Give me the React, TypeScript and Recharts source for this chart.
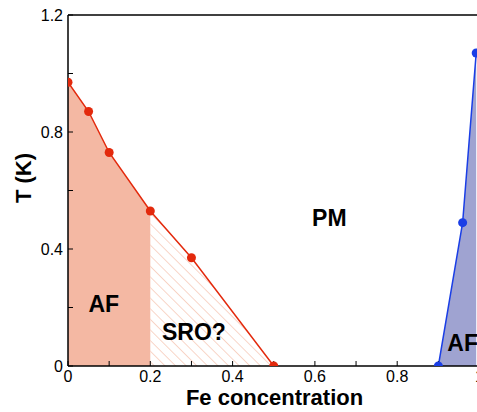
import {
  ComposedChart,
  Area,
  Line,
  XAxis,
  YAxis,
  ReferenceDot,
} from 'recharts'

// Cr-rich side: antiferromagnet (solid fill) then short range order (hatched)
const afConc = [0, 0.05, 0.1, 0.2]
const afTemp = [0.97, 0.87, 0.73, 0.53]
const sroConc = [0.2, 0.3, 0.5]
const sroTemp = [0.53, 0.37, 0]

// Fe-rich side
const feAfConc = [0.9, 0.959, 0.992]
const feAfTemp = [0, 0.49, 1.07]

const xTicks = [0, 0.1, 0.2, 0.3, 0.4, 0.5, 0.6, 0.7, 0.8, 0.9, 1]
const xTickLabels = ['0', '', '0.2', '', '0.4', '', '0.6', '', '0.8', '', '1']
const yTicks = [0, 0.2, 0.4, 0.6, 0.8, 1.0, 1.2]
const yTickLabels = ['0', '', '0.4', '', '0.8', '', '1.2']

const regionLabels = [
  { text: 'PM', x: 0.635, y: 0.508 },
  { text: 'AF', x: 0.087, y: 0.214 },
  { text: 'SRO?', x: 0.306, y: 0.116 },
  { text: 'AF', x: 0.959, y: 0.079 },
]

const toPoints = (xs: number[], ys: number[]) => xs.map((x, i) => ({ x, t: ys[i] }))

const afData = toPoints(afConc, afTemp)
const sroData = toPoints(sroConc, sroTemp)
const redLine = [...afData, ...sroData.slice(1)]
const feData = toPoints(feAfConc, feAfTemp)

const FONT = '"Liberation Sans", Arial, Helvetica, sans-serif'
const RED = '#e3290c'
const BLUE = '#1a3ee6'

export default function App() {
  const tickStyle = { fontSize: 16, fill: '#000', fontFamily: FONT }
  return (
    <div
      style={{
        position: 'absolute',
        left: 0,
        top: 0,
        width: 477,
        height: 412,
        overflow: 'hidden',
        background: '#fff',
        fontFamily: FONT,
      }}
    >
      <ComposedChart width={500} height={412} margin={{ top: 10, right: 10.5, bottom: 16, left: 0 }}>
        <defs>
          <pattern
            id="sroHatch"
            patternUnits="userSpaceOnUse"
            width={7.5}
            height={7.5}
            patternTransform="rotate(-45)"
          >
            <line x1={0} y1={0} x2={0} y2={7.5} stroke="#f4b9a3" strokeWidth={1.2} />
          </pattern>
        </defs>
        <XAxis
          dataKey="x"
          type="number"
          domain={[0, 1]}
          allowDataOverflow
          ticks={xTicks}
          interval={0}
          tickFormatter={(_v, i) => xTickLabels[i]}
          tick={tickStyle}
          tickSize={-5}
          tickMargin={10}
          height={30}
          axisLine={{ stroke: '#000', strokeWidth: 1.5 }}
          tickLine={{ stroke: '#000' }}
        />
        <XAxis
          xAxisId="top"
          orientation="top"
          dataKey="x"
          type="number"
          domain={[0, 1]}
          allowDataOverflow
          ticks={xTicks}
          interval={0}
          tick={false}
          tickSize={-5}
          height={5}
          axisLine={{ stroke: '#000', strokeWidth: 1.5 }}
          tickLine={{ stroke: '#000' }}
        />
        <YAxis
          type="number"
          domain={[0, 1.2]}
          allowDataOverflow
          ticks={yTicks}
          interval={0}
          tickFormatter={(_v, i) => yTickLabels[i]}
          tick={tickStyle}
          tickSize={-5}
          tickMargin={10}
          width={68}
          axisLine={{ stroke: '#000', strokeWidth: 1.5 }}
          tickLine={{ stroke: '#000' }}
        />
        <YAxis
          yAxisId="right"
          orientation="right"
          type="number"
          domain={[0, 1.2]}
          allowDataOverflow
          ticks={yTicks}
          interval={0}
          tick={false}
          tickSize={-5}
          width={10}
          axisLine={{ stroke: '#000', strokeWidth: 1.5 }}
          tickLine={{ stroke: '#000' }}
        />

        <Area
          data={afData}
          dataKey="t"
          type="linear"
          stroke="none"
          fill="#f4b8a3"
          fillOpacity={1}
          dot={false}
          activeDot={false}
          isAnimationActive={false}
        />
        <Area
          data={sroData}
          dataKey="t"
          type="linear"
          stroke="none"
          fill="url(#sroHatch)"
          fillOpacity={1}
          dot={false}
          activeDot={false}
          isAnimationActive={false}
        />
        <Line
          data={redLine}
          dataKey="t"
          type="linear"
          stroke={RED}
          strokeWidth={1.5}
          dot={{ r: 4.5, fill: RED, stroke: RED, strokeWidth: 0 }}
          activeDot={false}
          isAnimationActive={false}
        />
        <Area
          data={feData}
          dataKey="t"
          type="linear"
          stroke={BLUE}
          strokeWidth={1.5}
          fill="#9fa3d1"
          fillOpacity={1}
          dot={{ r: 4.5, fill: BLUE, stroke: BLUE, strokeWidth: 0, fillOpacity: 1 }}
          activeDot={false}
          isAnimationActive={false}
        />

        {regionLabels.map((l, i) => (
          <ReferenceDot
            key={i}
            x={l.x}
            y={l.y}
            r={0}
            stroke="none"
            fill="none"
            label={{
              value: l.text,
              position: 'center',
              fontSize: 23,
              fontWeight: 700,
              fill: '#000',
              fontFamily: FONT,
            }}
          />
        ))}
      </ComposedChart>

      <div
        style={{
          position: 'absolute',
          left: 274.5,
          top: 387.4,
          transform: 'translateX(-50%)',
          fontSize: 22,
          lineHeight: 1,
          fontWeight: 700,
          whiteSpace: 'nowrap',
        }}
      >
        Fe concentration
      </div>
      <div
        style={{
          position: 'absolute',
          left: 24,
          top: 178,
          transform: 'translate(-50%, -50%) rotate(-90deg)',
          fontSize: 22,
          lineHeight: 1,
          fontWeight: 700,
          whiteSpace: 'nowrap',
        }}
      >
        T (K)
      </div>
    </div>
  )
}
